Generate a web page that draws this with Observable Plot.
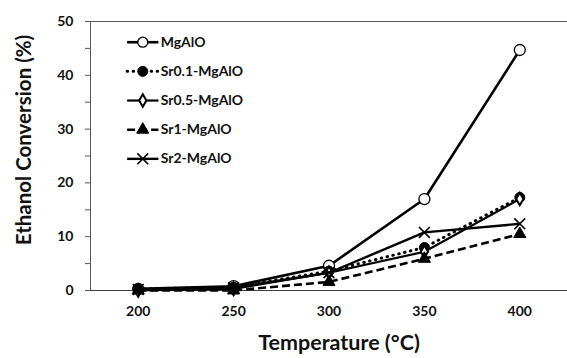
<!DOCTYPE html>
<html>
<head>
<meta charset="utf-8">
<script src="https://cdn.jsdelivr.net/npm/d3@7"></script>
<script src="https://cdn.jsdelivr.net/npm/@observablehq/plot@0.6"></script>
<style>
  html, body { margin: 0; padding: 0; background: #fff; }
  svg { font-family: Lato, "Open Sans", sans-serif; }
</style>
</head>
<body>
<div id="chart"></div>
<script>
const temps = [200, 250, 300, 350, 400];
const seriesNames = ["MgAlO", "Sr0.1-MgAlO", "Sr0.5-MgAlO", "Sr1-MgAlO", "Sr2-MgAlO"];
const mgalo = [0.3, 0.8, 4.6, 17.0, 44.7];
const sr01  = [0.3, 0.6, 3.6, 8.0, 17.3];
const sr05  = [0.0, 0.3, 3.3, 7.2, 17.0];
const sr1   = [0.0, 0.0, 1.6, 5.9, 10.5];
const sr2   = [0.2, 0.5, 3.3, 10.8, 12.4];
const yTicks = [0, 10, 20, 30, 40, 50];
const yMinor = [5, 15, 25, 35, 45];

const values = [mgalo, sr01, sr05, sr1, sr2];
const styles = [
  {width: 2.6, dash: null, cap: "butt", symbol: "circle", fill: "white", r: 5.5, sw: 1.3},
  {width: 3, dash: "0.5,5.5", cap: "round", symbol: "circle", fill: "black", r: 5, sw: 1},
  {width: 2.2, dash: null, cap: "butt", symbol: "diamond", fill: "white", r: 3.8, sw: 2},
  {width: 2.6, dash: "8,4", cap: "butt", symbol: "triangle", fill: "black", r: 4.5, sw: 1},
  {width: 2.4, dash: null, cap: "butt", symbol: "times", fill: "none", r: 5, sw: 1.6}
];

const marks = [];
// axis lines
marks.push(Plot.ruleX([175], {y1: 0, y2: 50, stroke: "#595959", strokeWidth: 1}));
marks.push(Plot.ruleY([50], {x1: 175, x2: 425, stroke: "#595959", strokeWidth: 1}));
marks.push(Plot.ruleY([0], {x1: 175, x2: 425, stroke: "#404040", strokeWidth: 1.2}));
marks.push(Plot.axisY({ticks: yTicks, tickSize: 5, tickPadding: 12, fontSize: 14, fontWeight: "bold", stroke: "#595959", fill: "#111", label: null}));
marks.push(Plot.axisY({ticks: yMinor, tickSize: 5, tickFormat: () => "", stroke: "#595959", label: null}));
marks.push(Plot.axisX({ticks: temps, tickSize: 0, tickPadding: 16, fontSize: 14, fontWeight: "bold", fill: "#111", label: null}));

values.forEach((vals, i) => {
  const s = styles[i];
  const data = temps.map((t, j) => ({t, v: vals[j]}));
  marks.push(Plot.line(data, {x: "t", y: "v", stroke: "black", strokeWidth: s.width, strokeDasharray: s.dash, strokeLinecap: s.cap}));
  marks.push(Plot.dot(data, {x: "t", y: "v", symbol: s.symbol, r: s.r, fill: s.fill, stroke: "black", strokeWidth: s.sw}));
});

// legend
const legY = (i) => 46.15 - i * 5.42;
const legX1 = 194.2, legX2 = 210.6, legXm = 202.4, legXt = 211.8;
seriesNames.forEach((name, i) => {
  const s = styles[i];
  const seg = [{t: legX1, v: legY(i)}, {t: legX2, v: legY(i)}];
  marks.push(Plot.line(seg, {x: "t", y: "v", stroke: "black", strokeWidth: s.width, strokeDasharray: s.dash, strokeLinecap: s.cap}));
  marks.push(Plot.dot([{t: legXm, v: legY(i)}], {x: "t", y: "v", symbol: s.symbol, r: Math.min(s.r, 5), fill: s.fill, stroke: "black", strokeWidth: s.sw}));
  marks.push(Plot.text([name], {x: legXt, y: legY(i), text: d => d, textAnchor: "start", fontSize: 14, fontWeight: "bold", fill: "#111"}));
});

// axis titles
marks.push(Plot.text(["Ethanol Conversion (%)"], {frameAnchor: "left", textAnchor: "middle", lineAnchor: "middle", rotate: -90, dx: -66, dy: -16, fontSize: 20.5, fontWeight: "bold", fill: "#111"}));
marks.push(Plot.text(["Temperature (°C)"], {frameAnchor: "bottom", textAnchor: "middle", lineAnchor: "middle", dx: 10, dy: 53, fontSize: 21.5, fontWeight: "bold", fill: "#111"}));

const chart = Plot.plot({
  width: 567,
  height: 358,
  marginLeft: 90,
  marginRight: 0,
  marginTop: 21,
  marginBottom: 68,
  x: {domain: [175, 425]},
  y: {domain: [0, 50]},
  style: {fontFamily: "Lato, 'Open Sans', sans-serif", background: "white", overflow: "visible"},
  marks
});
document.getElementById("chart").appendChild(chart);
</script>
</body>
</html>
